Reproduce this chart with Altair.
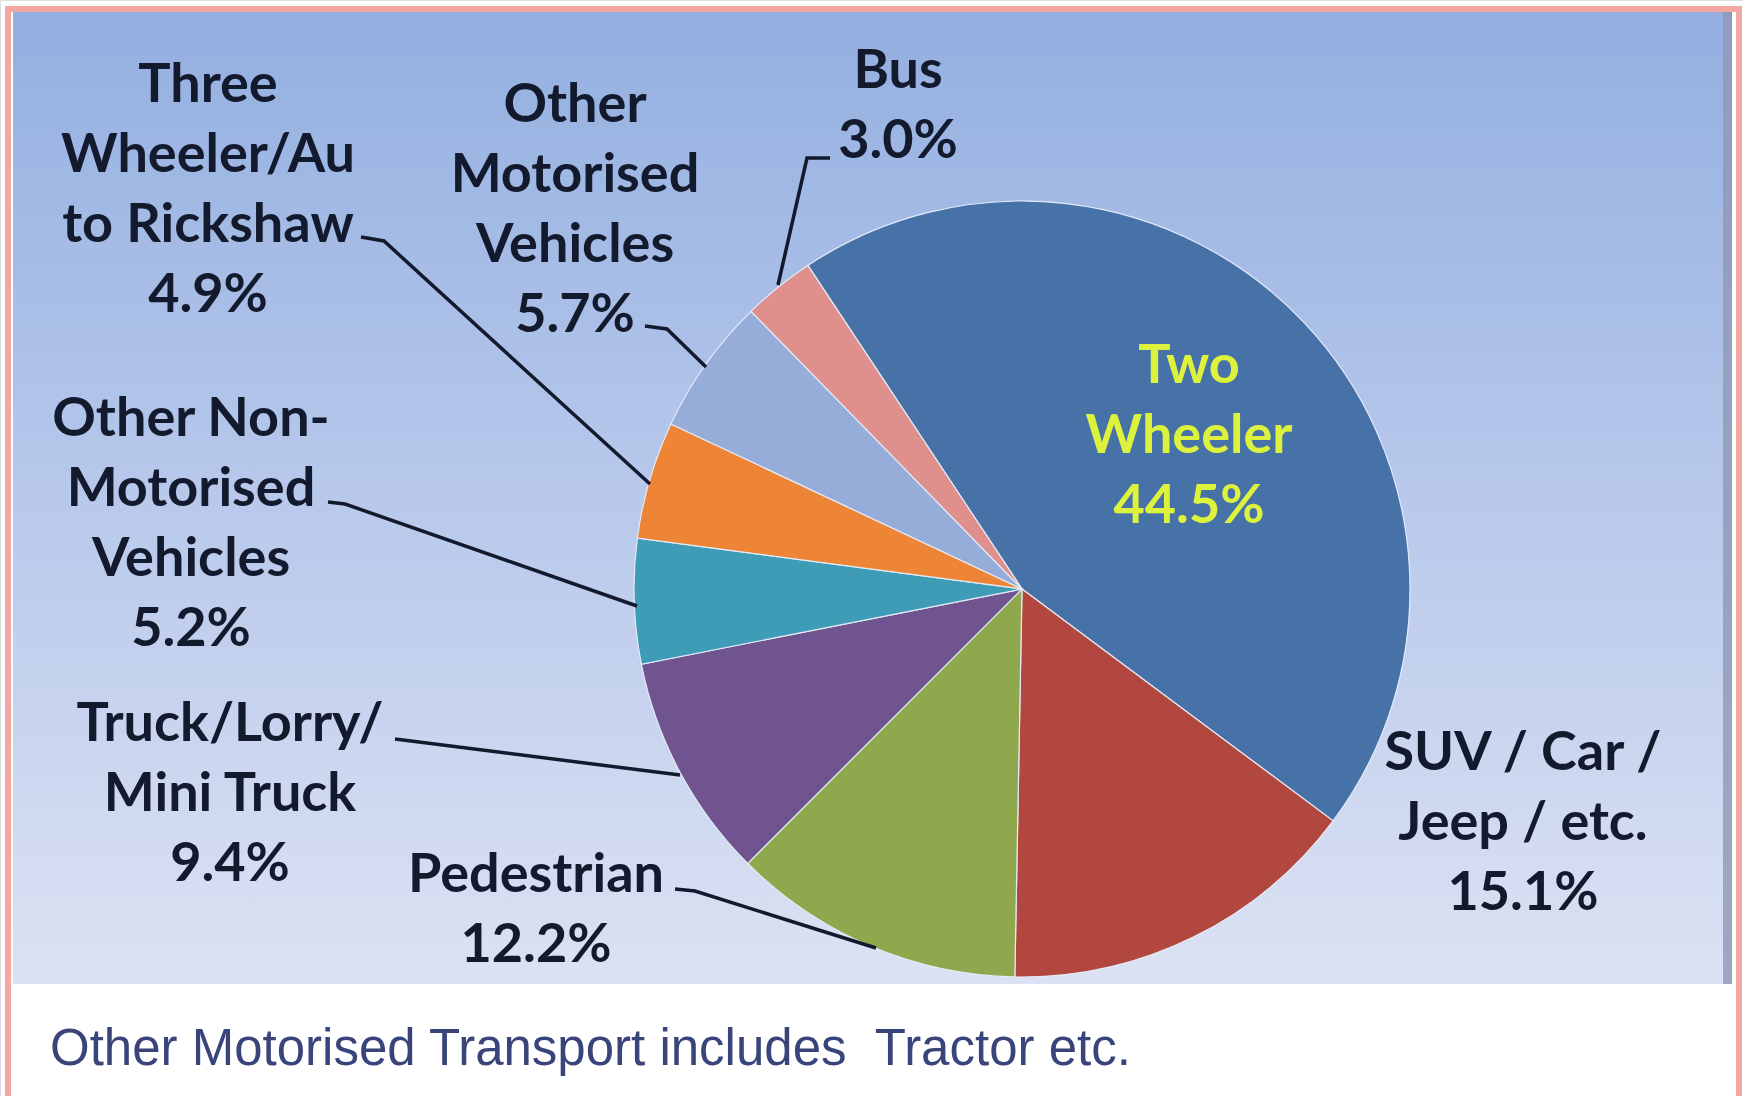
import math
import altair as alt
import pandas as pd

# ---------------- data ----------------
categories = [
    "Two Wheeler",
    "SUV / Car / Jeep / etc.",
    "Pedestrian",
    "Truck/Lorry/Mini Truck",
    "Other Non-Motorised Vehicles",
    "Three Wheeler/Auto Rickshaw",
    "Other Motorised Vehicles",
    "Bus",
]
shares = [44.5, 15.1, 12.2, 9.4, 5.2, 4.9, 5.7, 3.0]
label_lines = [
    ["Two", "Wheeler"],
    ["SUV / Car /", "Jeep / etc."],
    ["Pedestrian"],
    ["Truck/Lorry/", "Mini Truck"],
    ["Other Non-", "Motorised", "Vehicles"],
    ["Three", "Wheeler/Au", "to Rickshaw"],
    ["Other", "Motorised", "Vehicles"],
    ["Bus"],
]
footnote = "Other Motorised Transport includes \u00a0Tractor etc."

# ---------------- styles / layout ----------------
slice_colors = ["#4672A8", "#B2473F", "#8FA84E", "#70548F",
                "#3F9CB7", "#EE8536", "#95ADD8", "#DF8F8C"]
W, H = 1743, 1096
CX, CY, R = 1022, 589, 388
START = math.radians(-33.5) + 2 * math.pi
LINE_H = 70
FONT = "Lato"
FS = 54
TEXT_DARK = "#131a2e"
TWO_WHEELER_TEXT = "#DDF23C"

label_anchor = [
    (1189, 367), (1523, 754), (536, 876), (230, 725),
    (191, 420), (208, 86), (575, 106), (898, 72),
]
leader_paths = [
    None,
    None,
    [(675, 889), (695, 891), (876, 948)],
    [(395, 739), (411, 741), (680, 775)],
    [(328, 502), (345, 504), (637, 606)],
    [(361, 237), (384, 241), (650, 484)],
    [(645, 326), (667, 329), (706, 367)],
    [(830, 158), (807, 158), (778, 285)],
]

# ---------------- tables ----------------
pie_df = pd.DataFrame({
    "category": categories,
    "share": shares,
    "idx": list(range(len(categories))),
})

text_rows = []
for i, cat in enumerate(categories):
    lines = label_lines[i] + [f"{shares[i]:.1f}%"]
    ax, ay = label_anchor[i]
    for j, ln in enumerate(lines):
        text_rows.append({"category": cat, "line": ln, "px": ax, "py": ay + j * LINE_H,
                          "inside": i == 0})
text_df = pd.DataFrame(text_rows)

leader_rows = []
for i, cat in enumerate(categories):
    if leader_paths[i] is None:
        continue
    for k, (lx, ly) in enumerate(leader_paths[i]):
        leader_rows.append({"category": cat, "k": k, "px": lx, "py": ly})
leader_df = pd.DataFrame(leader_rows)

dummy = pd.DataFrame({"d": [0]})

# ---------------- layers ----------------
frame = alt.Chart(dummy).mark_rect(
    fill="white", stroke="#F4A6A2", strokeWidth=6
).encode(x=alt.value(8), x2=alt.value(1739), y=alt.value(9), y2=alt.value(1110))

grad = alt.Gradient(
    gradient="linear",
    stops=[
        alt.GradientStop(color="#93AFE0", offset=0),
        alt.GradientStop(color="#B4C6EA", offset=0.45),
        alt.GradientStop(color="#DCE2F3", offset=1),
    ],
    x1=0, x2=0, y1=0, y2=1,
)
panel = alt.Chart(dummy).mark_rect(fill=grad).encode(
    x=alt.value(13), x2=alt.value(1732), y=alt.value(12), y2=alt.value(984)
)
edge = alt.Chart(dummy).mark_rect(fill="#8D98B5", opacity=0.8).encode(
    x=alt.value(1723), x2=alt.value(1732), y=alt.value(12), y2=alt.value(984)
)

pie = alt.Chart(pie_df).mark_arc(
    outerRadius=R, stroke="#E4EAF7", strokeWidth=1.2
).encode(
    theta=alt.Theta("share:Q", stack=True,
                    scale=alt.Scale(range=[START, START + 2 * math.pi])),
    order=alt.Order("idx:Q"),
    color=alt.Color("category:N", legend=None,
                    scale=alt.Scale(domain=categories, range=slice_colors)),
    x=alt.value(CX),
    y=alt.value(CY),
)

leaders = alt.Chart(leader_df).mark_line(
    color=TEXT_DARK, strokeWidth=3.5
).encode(
    x=alt.X("px:Q", scale=None),
    y=alt.Y("py:Q", scale=None),
    detail="category:N",
    order="k:Q",
)

labels = alt.Chart(text_df).mark_text(
    font=FONT, fontSize=FS, fontWeight="bold", align="center", baseline="middle"
).encode(
    x=alt.X("px:Q", scale=None),
    y=alt.Y("py:Q", scale=None),
    text="line:N",
    color=alt.condition("datum.inside", alt.value(TWO_WHEELER_TEXT), alt.value(TEXT_DARK)),
)

note = alt.Chart(pd.DataFrame({"t": [footnote]})).mark_text(
    font="Liberation Sans", fontSize=51, align="left", baseline="middle", color="#39447A"
).encode(x=alt.value(50), y=alt.value(1050), text="t:N")

chart = alt.layer(frame, panel, edge, pie, leaders, labels, note).properties(
    width=W, height=H, padding=0, autosize=alt.AutoSizeParams(type="none")
).configure_view(stroke=None).configure(background="white")

chart.save("out.html", embed_options={"renderer": "svg", "actions": False})
